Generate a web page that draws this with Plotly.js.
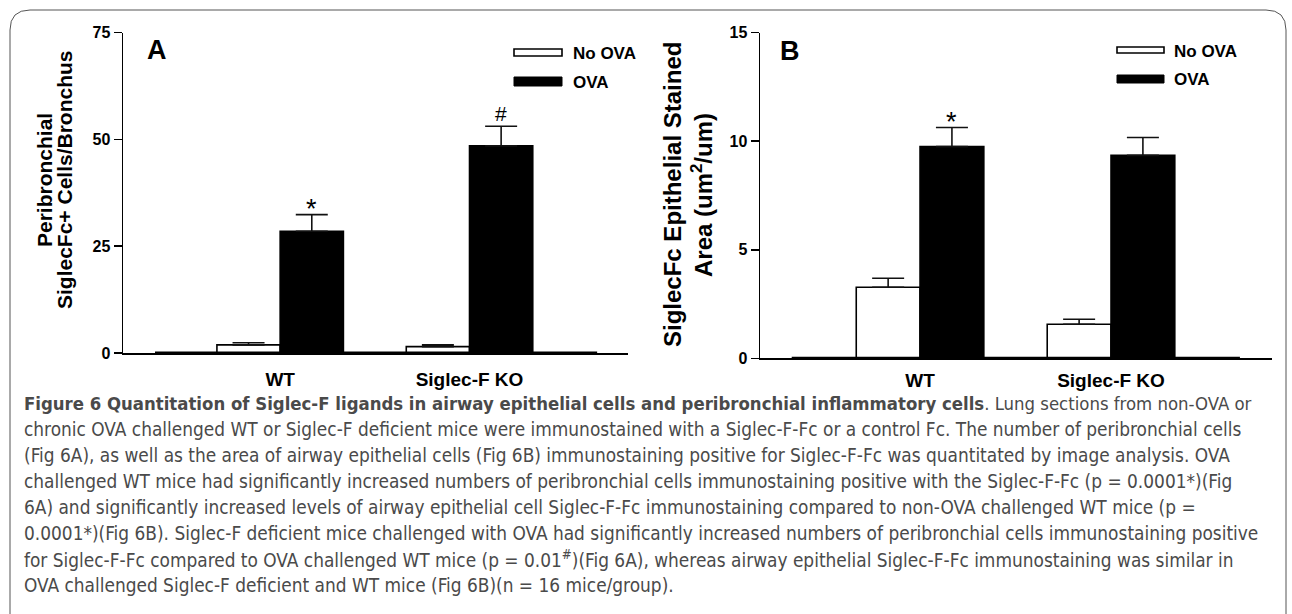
<!DOCTYPE html>
<html>
<head>
<meta charset="utf-8">
<script src="https://cdn.plot.ly/plotly-3.0.1.min.js"></script>
<style>
html,body{margin:0;padding:0;background:#fff;}
#chart{width:1292px;height:614px;}
</style>
</head>
<body>
<div id="chart"></div>
<script>
// ---------- data ----------
const categories = ['WT', 'Siglec-F KO'];
const seriesNames = ['No OVA', 'OVA'];

// Panel A: Peribronchial SiglecFc+ cells / bronchus
const cellsNoOva = [1.9, 1.5];
const cellsNoOvaErr = [0.5, 0.4];
const cellsOva = [28.5, 48.5];
const cellsOvaErr = [3.9, 4.6];
const sigMarksA = ['*', '#'];

// Panel B: SiglecFc epithelial stained area (um^2/um)
const areaNoOva = [3.27, 1.57];
const areaNoOvaErr = [0.42, 0.23];
const areaOva = [9.75, 9.35];
const areaOvaErr = [0.88, 0.82];
const sigMarksB = ['*', ''];

const yTicksA = [0, 25, 50, 75];
const yTicksB = [0, 5, 10, 15];

const captionLines = [
  '<b>Figure 6 Quantitation of Siglec-F ligands in airway epithelial cells and peribronchial inflammatory cells</b>. Lung sections from non-OVA or',
  'chronic OVA challenged WT or Siglec-F deficient mice were immunostained with a Siglec-F-Fc or a control Fc. The number of peribronchial cells',
  '(Fig 6A), as well as the area of airway epithelial cells (Fig 6B) immunostaining positive for Siglec-F-Fc was quantitated by image analysis. OVA',
  'challenged WT mice had significantly increased numbers of peribronchial cells immunostaining positive with the Siglec-F-Fc (p = 0.0001*)(Fig',
  '6A) and significantly increased levels of airway epithelial cell Siglec-F-Fc immunostaining compared to non-OVA challenged WT mice (p =',
  '0.0001*)(Fig 6B). Siglec-F deficient mice challenged with OVA had significantly increased numbers of peribronchial cells immunostaining positive',
  'for Siglec-F-Fc compared to OVA challenged WT mice (p = 0.01<sup>#</sup>)(Fig 6A), whereas airway epithelial Siglec-F-Fc immunostaining was similar in',
  'OVA challenged Siglec-F deficient and WT mice (Fig 6B)(n = 16 mice/group).'
];

// ---------- helpers ----------
const W = 1292, H = 614;
const px = x => x / W;
const py = y => 1 - y / H;
const FONT = 'Arial, "Liberation Sans", sans-serif';
const BARGAP = 0.332;
const ovaOffset = (1 - BARGAP) / 4; // centre of second bar in a group

function barTrace(y, err, name, fill, xa, ya) {
  return {
    type: 'bar', x: categories, y: y, name: name,
    xaxis: xa, yaxis: ya, showlegend: false,
    marker: {color: fill, line: {color: '#000', width: 1.6}},
    error_y: {type: 'data', symmetric: false, array: err,
              arrayminus: err.map(() => 0), color: '#111', thickness: 1.6, width: 16},
    hoverinfo: 'x+y+name'
  };
}

const data = [
  barTrace(cellsNoOva, cellsNoOvaErr, seriesNames[0], '#fff', 'x', 'y'),
  barTrace(cellsOva, cellsOvaErr, seriesNames[1], '#000', 'x', 'y'),
  barTrace(areaNoOva, areaNoOvaErr, seriesNames[0], '#fff', 'x2', 'y2'),
  barTrace(areaOva, areaOvaErr, seriesNames[1], '#000', 'x2', 'y2')
];

const tickFont = {family: FONT, size: 16, color: '#000', weight: 'bold'};
const catFont = {family: FONT, size: 19, color: '#000', weight: 'bold'};

function xAxis(domain, range, standoff) {
  return {
    domain: domain, range: range, type: 'category',
    showline: true, linecolor: '#000', linewidth: 1.5,
    ticks: '', showgrid: false, zeroline: false,
    tickfont: catFont, ticklabelstandoff: standoff, fixedrange: true
  };
}
function yAxis(domain, range, ticks, anchor) {
  return {
    domain: domain, range: range, anchor: anchor,
    tickmode: 'array', tickvals: ticks, ticktext: ticks.map(String),
    showline: true, linecolor: '#000', linewidth: 1.5,
    ticks: 'outside', ticklen: 8, tickwidth: 1.5, tickcolor: '#000',
    showgrid: false, zeroline: false, tickfont: tickFont, fixedrange: true
  };
}

const annotations = [];
const shapes = [];

// significance marks
function addSig(marks, vals, errs, xref, yref) {
  marks.forEach((m, i) => {
    if (!m) return;
    const star = m === '*';
    annotations.push({
      xref: xref, yref: yref, x: i + ovaOffset, y: vals[i] + errs[i],
      text: m, showarrow: false, xanchor: 'center', yanchor: 'bottom',
      yshift: star ? -11 : -1,
      font: {family: FONT, size: star ? 27 : 21, color: '#000'}
    });
  });
}
addSig(sigMarksA, cellsOva, cellsOvaErr, 'x', 'y');
addSig(sigMarksB, areaOva, areaOvaErr, 'x2', 'y2');

// baselines under the bars
shapes.push({type: 'line', xref: 'x', yref: 'y', x0: -0.661, x1: 1.674, y0: 0, y1: 0,
             line: {color: '#000', width: 3}});
shapes.push({type: 'line', xref: 'x2', yref: 'y2', x0: -0.672, x1: 1.675, y0: 0, y1: 0,
             line: {color: '#000', width: 3}});

// legends
function addLegend(x0, x1, r1, r2, tx, t1, t2) {
  shapes.push({type: 'rect', xref: 'paper', yref: 'paper', x0: px(x0), x1: px(x1),
               y0: py(r1[0]), y1: py(r1[1]), fillcolor: '#fff', line: {color: '#000', width: 1.6}});
  shapes.push({type: 'rect', xref: 'paper', yref: 'paper', x0: px(x0), x1: px(x1),
               y0: py(r2[0]), y1: py(r2[1]), fillcolor: '#000', line: {color: '#000', width: 1}});
  annotations.push({xref: 'paper', yref: 'paper', x: px(tx), y: py(t1), text: seriesNames[0],
    showarrow: false, xanchor: 'left', yanchor: 'middle',
    font: {family: FONT, size: 17, color: '#000', weight: 'bold'}});
  annotations.push({xref: 'paper', yref: 'paper', x: px(tx), y: py(t2), text: seriesNames[1],
    showarrow: false, xanchor: 'left', yanchor: 'middle',
    font: {family: FONT, size: 17, color: '#000', weight: 'bold'}});
}
addLegend(514, 562, [49, 56], [77, 86], 571, 53, 82);
addLegend(1117, 1164, [47, 53], [75, 83], 1172, 51, 79);

// panel letters
[['A', 157, 50], ['B', 790, 51]].forEach(([t, x, y]) => {
  annotations.push({xref: 'paper', yref: 'paper', x: px(x), y: py(y), text: t, showarrow: false,
    xanchor: 'center', yanchor: 'middle', font: {family: FONT, size: 27, color: '#000', weight: 'bold'}});
});

// y-axis titles (two lines each)
[
  ['Peribronchial', 44, 180, 21],
  ['SiglecFc+ Cells/Bronchus', 64, 180, 21],
  ['SiglecFc Epithelial Stained', 673, 195, 24],
  ['Area (um<sup>2</sup>/um)', 702, 195, 24]
].forEach(([t, x, y, s]) => {
  annotations.push({xref: 'paper', yref: 'paper', x: px(x), y: py(y), text: t, showarrow: false,
    textangle: -90, xanchor: 'center', yanchor: 'middle',
    font: {family: FONT, size: s, color: '#000', weight: 'bold'}});
});

// caption
captionLines.forEach((t, i) => {
  annotations.push({xref: 'paper', yref: 'paper', x: px(22), y: py(403 + i * 26), text: t,
    showarrow: false, xanchor: 'left', yanchor: 'middle', align: 'left',
    font: {family: '"DejaVu Sans Condensed", "Liberation Sans Narrow", sans-serif',
           size: i === 0 ? 18.4 : 18.9, color: '#4a4a4a'}});
});

// rounded frame
(function () {
  const r = 20, L = 10, T = 10, R = 1286, B = 640;
  const P = (x, y) => px(x) + ',' + py(y);
  shapes.push({type: 'path', xref: 'paper', yref: 'paper',
    path: 'M' + P(L, B) + ' L' + P(L, T + r) + ' Q' + P(L, T) + ' ' + P(L + r, T) +
          ' L' + P(R - r, T) + ' Q' + P(R, T) + ' ' + P(R, T + r) + ' L' + P(R, B),
    line: {color: '#555', width: 1}});
})();

const layout = {
  width: W, height: H,
  margin: {l: 0, r: 0, t: 0, b: 0},
  paper_bgcolor: '#fff', plot_bgcolor: 'rgba(0,0,0,0)',
  barmode: 'group', bargap: BARGAP, bargroupgap: 0,
  showlegend: false,
  xaxis: Object.assign(xAxis([px(123), px(628)], [-0.830, 1.837], 9), {anchor: 'y'}),
  yaxis: yAxis([py(353), py(32.7)], [0, 75], yTicksA, 'x'),
  xaxis2: Object.assign(xAxis([px(760), px(1272)], [-0.838, 1.843], 4), {anchor: 'y2'}),
  yaxis2: yAxis([py(358.3), py(32.7)], [0, 15], yTicksB, 'x2'),
  annotations: annotations,
  shapes: shapes,
  font: {family: FONT, color: '#000'}
};

Plotly.newPlot('chart', data, layout, {displayModeBar: false, staticPlot: true});
</script>
</body>
</html>
